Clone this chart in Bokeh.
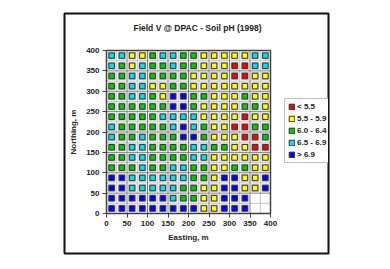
from bokeh.plotting import figure
from bokeh.models import Legend, LegendItem, FixedTicker, Label, Range1d
from bokeh.embed import file_html
from bokeh.resources import INLINE

# ---- data ----
title_text = "Field V @ DPAC - Soil pH (1998)"
x_label = "Easting, m"
y_label = "Northing, m"
tick_values = [0, 50, 100, 150, 200, 250, 300, 350, 400]
minor_values = [25, 75, 125, 175, 225, 275, 325, 375]

ph_classes = ["< 5.5", "5.5 - 5.9", "6.0 - 6.4", "6.5 - 6.9", "> 6.9"]
class_codes = ["R", "Y", "G", "C", "B"]
class_colors = ["#ff0000", "#ffff00", "#00cc00", "#00e0f0", "#0000ff"]

easting = [12.5, 37.5, 62.5, 87.5, 112.5, 137.5, 162.5, 187.5,
           212.5, 237.5, 262.5, 287.5, 312.5, 337.5, 362.5, 387.5]
northing_top_down = [387.5, 362.5, 337.5, 312.5, 287.5, 262.5, 237.5, 212.5,
                     187.5, 162.5, 137.5, 112.5, 87.5, 62.5, 37.5, 12.5]

# pH class of each sample, one string per northing row (top to bottom),
# one letter per easting column; "-" = no sample
ph_rows = [
    "CCYYGCCGGYYYYYCC",
    "CGYCGGCGGYYYRRCC",
    "GGCCGGGGYYYYRRYY",
    "GGCCYYGGYYYYYYYY",
    "GGCCGYBBGGYYYGYY",
    "GGGGGGBBGYYYYGGY",
    "GGGGGCCCCYYYYRYY",
    "CGGGGGCBCGYYRRGG",
    "CGGCGGGBBGYYYRRG",
    "GGCCGGGGCCGGYYRR",
    "GGCCGGGGCCYYYYYY",
    "GGGCGGCCGGYYGGYY",
    "BBCCCCCCGGYBBYYB",
    "BBCCCCCGGYYBBYYB",
    "BBBBBBCGGYYBBB--",
    "BBBBBBBBBYYBBB--",
]

text_color = "#222222"
font = "Liberation Sans"
x0, x1 = tick_values[0], tick_values[-1]

# ---- figure: the frame is the bordered chart box ----
p = figure(width=390, height=269,
           x_range=Range1d(-102.44, 541.46), y_range=Range1d(-98.16, 490.8),
           output_backend="svg", toolbar_location=None,
           min_border_left=64, min_border_right=62,
           min_border_top=13, min_border_bottom=16)
p.background_fill_color = "white"
p.border_fill_color = "white"
p.outline_line_color = "#111111"
p.outline_line_width = 2
p.grid.visible = False

for ax, lab in ((p.xaxis[0], x_label), (p.yaxis[0], y_label)):
    ax.fixed_location = 0
    ax.bounds = (x0, x1)
    ax.ticker = FixedTicker(ticks=tick_values)
    ax.axis_label = lab
    ax.axis_label_text_font = font
    ax.axis_label_text_font_size = "8px"
    ax.axis_label_text_font_style = "bold"
    ax.axis_label_text_color = text_color
    ax.major_label_text_font = font
    ax.major_label_text_font_size = "8px"
    ax.major_label_text_font_style = "bold"
    ax.major_label_text_color = text_color
    ax.major_tick_in = 0
    ax.major_tick_out = 4
    ax.minor_tick_line_color = None
    ax.axis_line_color = "#404040"
    ax.major_tick_line_color = "#404040"
p.xaxis.major_label_standoff = 3
p.xaxis.axis_label_standoff = 4
p.yaxis.major_label_standoff = 3
p.yaxis.axis_label_standoff = 5

# grid lines inside the plot area
p.segment(x0=minor_values, y0=x0, x1=minor_values, y1=x1, line_color="#c4c4c4", line_width=1)
p.segment(x0=x0, y0=minor_values, x1=x1, y1=minor_values, line_color="#c4c4c4", line_width=1)
p.segment(x0=tick_values, y0=x0, x1=tick_values, y1=x1, line_color="#808080", line_width=1)
p.segment(x0=x0, y0=tick_values, x1=x1, y1=tick_values, line_color="#808080", line_width=1)
# plot-area border
p.quad(left=x0, right=x1, bottom=x0, top=x1, fill_color=None,
       line_color="#404040", line_width=1.5)

# sample cells
all_x, all_y = [], []
per_class = {c: ([], []) for c in class_codes}
for yi, row in zip(northing_top_down, ph_rows):
    for xi, code in zip(easting, row):
        if code in per_class:
            all_x.append(xi)
            all_y.append(yi)
            per_class[code][0].append(xi)
            per_class[code][1].append(yi)

p.rect(x=all_x, y=all_y, width=8, height=8, width_units="screen",
       height_units="screen", fill_color="#c8c8c8", line_color=None)

items = []
for code, name, col in zip(class_codes, ph_classes, class_colors):
    xs, ys = per_class[code]
    r = p.rect(x=xs, y=ys, width=5.5, height=5.5, width_units="screen",
               height_units="screen", fill_color=col, line_color="#333333",
               line_width=1)
    items.append(LegendItem(label=name, renderers=[r]))

legend = Legend(items=items, location=(220, 90), label_text_font=font,
                label_text_font_size="8px", label_text_font_style="bold",
                label_text_color=text_color, glyph_width=7, glyph_height=7,
                label_height=9, spacing=3, padding=3, margin=0,
                label_standoff=2, border_line_color="#808080",
                border_line_width=1, background_fill_color="white",
                background_fill_alpha=1)
p.add_layout(legend, "center")

p.add_layout(Label(x=222, y=456, text=title_text, text_align="center",
                   text_baseline="middle", text_font=font,
                   text_font_size="8.5px", text_font_style="bold",
                   text_color=text_color))

open("out.html", "w").write(file_html(p, INLINE))
